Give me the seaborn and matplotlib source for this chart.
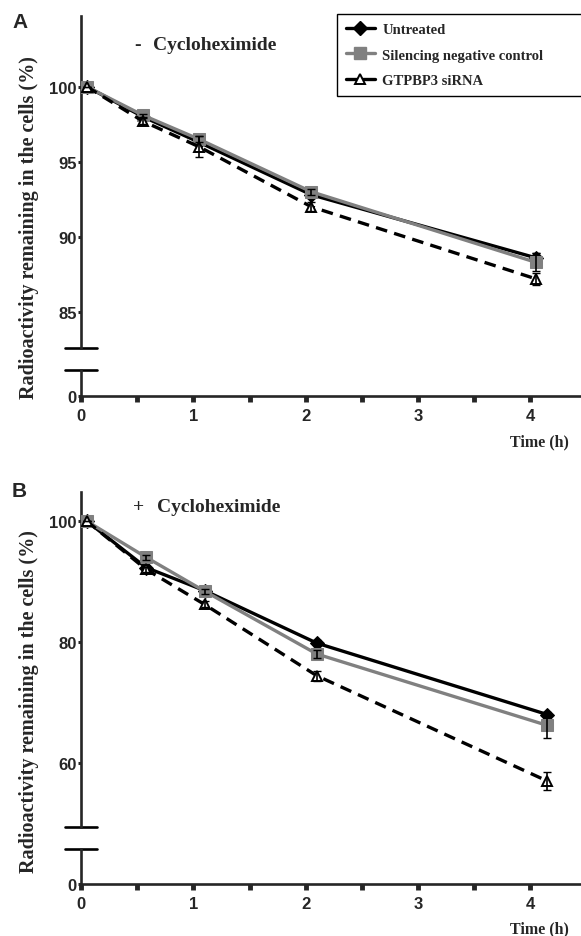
import matplotlib
matplotlib.use("Agg")
import matplotlib.pyplot as plt
from matplotlib.lines import Line2D
import seaborn as sns

# time points (h), slightly offset from the nominal sampling times as in the figure
time_a = [0.05, 0.55, 1.05, 2.05, 4.05]
time_b = [0.05, 0.58, 1.10, 2.10, 4.15]

# panel A: - cycloheximide
untreated_a = [100, 98.0, 96.3, 92.8, 88.6]
silencing_a = [100, 98.1, 96.5, 93.0, 88.3]
gtpbp3_a = [100, 97.7, 96.0, 92.0, 87.2]
untreated_a_err = [0, 0.1, 0.2, 0.2, 0.3]
silencing_a_err = [0, 0.1, 0.2, 0.2, 0.6]
gtpbp3_a_err = [0, 0.2, 0.7, 0.3, 0.4]

# panel B: + cycloheximide
untreated_b = [100, 92.3, 88.5, 79.8, 68.0]
silencing_b = [100, 94.0, 88.4, 78.0, 66.2]
gtpbp3_b = [100, 92.0, 86.2, 74.4, 57.0]
untreated_b_err = [0, 0.3, 0.3, 0.5, 0.5]
silencing_b_err = [0, 0.4, 0.4, 0.6, 2.0]
gtpbp3_b_err = [0, 0.4, 0.5, 0.8, 1.5]

series_names = ["Untreated", "Silencing negative control", "GTPBP3 siRNA"]
yticks_a = [85, 90, 95, 100]
yticks_b = [60, 80, 100]
xticks = [0, 1, 2, 3, 4]

sns.set_style("ticks")
plt.rcParams['font.family'] = ['Liberation Sans', 'DejaVu Sans']

GRAY = "#808080"
SERIF = "Liberation Serif"

fig = plt.figure(figsize=(5.81, 9.37), dpi=100)
W, H = 581.0, 937.0


def make_axes(top_px, brk_top_px, brk_bot_px, base_px):
    left = 81 / W
    width = 1 - left
    up = fig.add_axes([left, 1 - brk_top_px / H, width, (brk_top_px - top_px) / H])
    low = fig.add_axes([left, 1 - base_px / H, width, (base_px - brk_bot_px) / H], sharex=up)
    return up, low


def style_axes(up, low, ylim, yticks):
    up.set_ylim(*ylim)
    up.set_yticks(yticks)
    up.set_yticklabels([str(v) for v in yticks], fontweight='bold', fontsize=12)
    up.set_xlim(0, 4.45)
    for s in ['top', 'right', 'bottom']:
        up.spines[s].set_visible(False)
    up.tick_params(axis='x', which='both', bottom=False, labelbottom=False)
    up.tick_params(axis='y', direction='out', length=2.5, width=2.2, pad=0.5)
    up.spines['left'].set_linewidth(1.9)

    low.set_ylim(0, 5)
    low.set_yticks([0])
    low.set_yticklabels(['0'], fontweight='bold', fontsize=12)
    for s in ['top', 'right']:
        low.spines[s].set_visible(False)
    low.spines['left'].set_linewidth(1.9)
    low.spines['bottom'].set_linewidth(1.9)
    low.set_xticks(xticks)
    low.set_xticklabels([str(v) for v in xticks], fontweight='bold', fontsize=12)
    low.set_xticks([0.5, 1.5, 2.5, 3.5], minor=True)
    low.tick_params(axis='x', which='both', direction='out', length=4, width=3.5, pad=5)
    low.tick_params(axis='y', direction='out', length=2.5, width=2.2, pad=0.5)
    low.set_xlabel("")
    low.set_ylabel("")
    up.set_xlabel("")
    up.set_ylabel("")

    # axis break marks
    up.plot([-0.032, 0.032], [0, 0], transform=up.transAxes, color='black', lw=1.9, clip_on=False)
    low.plot([-0.032, 0.032], [1, 1], transform=low.transAxes, color='black', lw=1.9, clip_on=False)


def draw_series(ax, t, vals, errs):
    untreated, silencing, gtpbp3 = vals
    u_err, s_err, g_err = errs

    sns.lineplot(x=t, y=untreated, ax=ax, color='black', lw=2.4, marker='D',
                 markersize=7, markeredgecolor='black', markerfacecolor='black', zorder=3)
    ax.errorbar(t, untreated, yerr=u_err, fmt='none', ecolor='black', elinewidth=1.2, capsize=3, zorder=3)

    sns.lineplot(x=t, y=silencing, ax=ax, color=GRAY, lw=2.4, marker='s',
                 markersize=8, markeredgecolor=GRAY, markerfacecolor=GRAY, zorder=4)
    ax.errorbar(t, silencing, yerr=s_err, fmt='none', ecolor='black', elinewidth=1.2, capsize=3, zorder=4)

    sns.lineplot(x=t, y=gtpbp3, ax=ax, color='black', lw=2.4, marker='^',
                 markersize=7, markeredgecolor='black', markerfacecolor='white',
                 markeredgewidth=1.4, zorder=5)
    ax.lines[-1].set_dashes((3.5, 2.2))
    ax.errorbar(t, gtpbp3, yerr=g_err, fmt='none', ecolor='black', elinewidth=1.2, capsize=3, zorder=5)


# ---- panel A
up_a, low_a = make_axes(17, 349, 371, 397)
draw_series(up_a, time_a, (untreated_a, silencing_a, gtpbp3_a),
            (untreated_a_err, silencing_a_err, gtpbp3_a_err))
style_axes(up_a, low_a, (82.6, 104.7), yticks_a)

# ---- panel B
up_b, low_b = make_axes(493, 828, 850, 885)
draw_series(up_b, time_b, (untreated_b, silencing_b, gtpbp3_b),
            (untreated_b_err, silencing_b_err, gtpbp3_b_err))
style_axes(up_b, low_b, (49.4, 104.8), yticks_b)

# texts
fig.text(12 / W, 1 - 22 / H, "A", fontsize=15, fontweight='bold', va='center', ha='left')
fig.text(12 / W, 1 - 492 / H, "B", fontsize=15, fontweight='bold', va='center', ha='left')
fig.text(134 / W, 1 - 45 / H, "-", family=SERIF, fontsize=14,
         fontweight='bold', va='center', ha='left')
fig.text(153 / W, 1 - 45 / H, "Cycloheximide", family=SERIF, fontsize=14,
         fontweight='bold', va='center', ha='left')
fig.text(133 / W, 1 - 508 / H, "+", family=SERIF, fontsize=14,
         fontweight='bold', va='center', ha='left')
fig.text(157 / W, 1 - 508 / H, "Cycloheximide", family=SERIF, fontsize=14,
         fontweight='bold', va='center', ha='left')

ylab = "Radioactivity remaining in the cells (%)"
fig.text(29 / W, 1 - 228 / H, ylab, family=SERIF, fontsize=14.5, fontweight='bold',
         rotation=90, va='center', ha='center')
fig.text(29 / W, 1 - 702 / H, ylab, family=SERIF, fontsize=14.5, fontweight='bold',
         rotation=90, va='center', ha='center')

fig.text(539 / W, 1 - 442 / H, "Time (h)", family=SERIF, fontsize=11.5, fontweight='bold',
         va='center', ha='center')
fig.text(539 / W, 1 - 929 / H, "Time (h)", family=SERIF, fontsize=11.5, fontweight='bold',
         va='center', ha='center')

# legend
handles = [
    Line2D([], [], color='black', lw=2.4, marker='D', markersize=7),
    Line2D([], [], color=GRAY, lw=2.4, marker='s', markersize=8),
    Line2D([], [], color='black', lw=2.4, marker='^', markersize=7,
           markerfacecolor='white', markeredgewidth=1.4),
]
leg = fig.legend(handles, series_names, loc='upper left',
                 bbox_to_anchor=(337 / W, 1 - 97 / H, 260 / W, 82 / H), mode='expand',
                 frameon=True, fancybox=False, framealpha=1, edgecolor='black',
                 prop={'family': SERIF, 'weight': 'bold', 'size': 10.5},
                 handlelength=2.0, handletextpad=0.5, labelspacing=0.85, borderpad=0.6,
                 borderaxespad=0)
leg.get_frame().set_linewidth(1.0)

fig.savefig("out.png", dpi=100)
